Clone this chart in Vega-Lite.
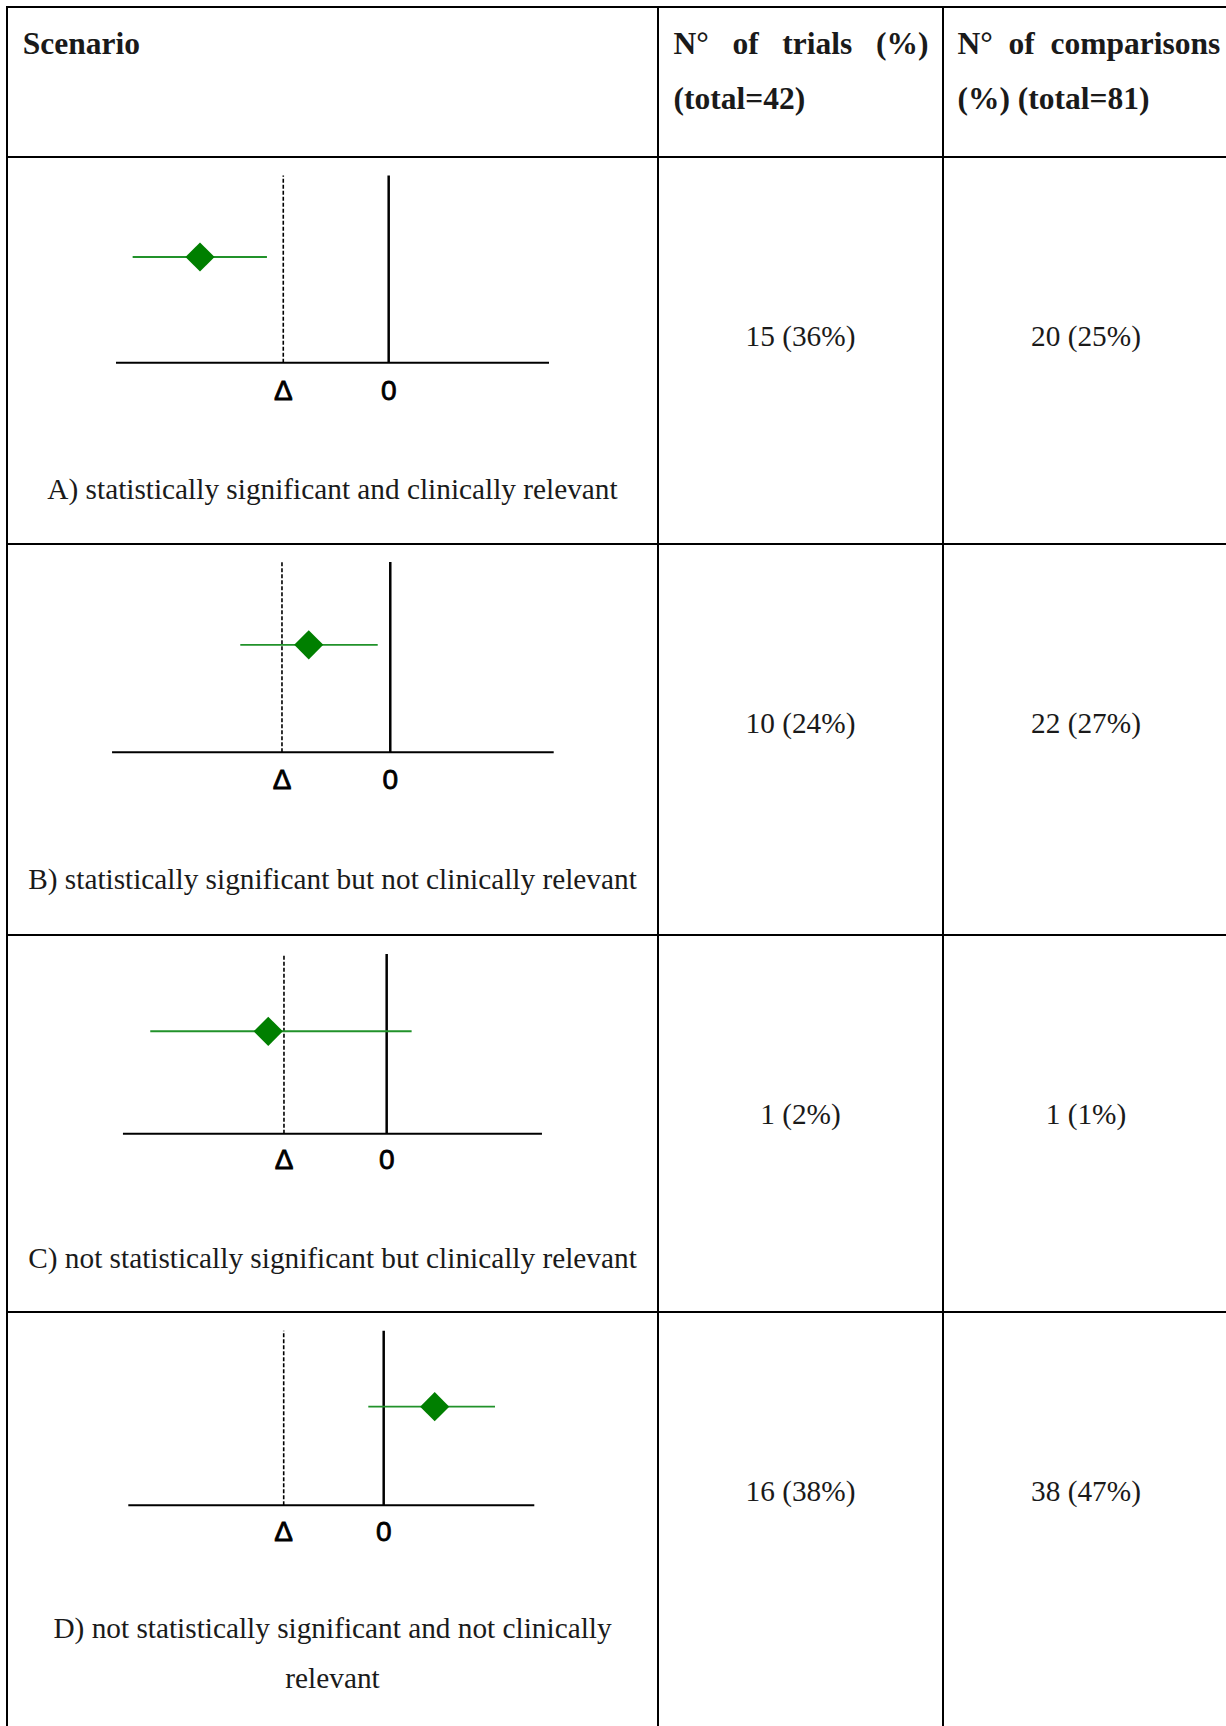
{
  "$schema": "https://vega.github.io/schema/vega-lite/v6.json",
  "background": "white",
  "padding": {"left": 6, "top": 6, "right": 0, "bottom": 0},
  "columns": 3,
  "spacing": 0,
  "bounds": "flush",
  "config": {
    "view": {"stroke": "#000", "strokeWidth": 2},
    "text": {"font": "Liberation Serif", "color": "#1a1a1a"},
    "concat": {"spacing": 0}
  },
  "datasets": {
    "header": [
      {"col": "scenario", "text": "Scenario"},
      {"col": "trials", "text": "N°\u00a0\u00a0\u00a0of\u00a0\u00a0\u00a0trials\u00a0\u00a0\u00a0(%)\n(total=42)"},
      {"col": "comparisons", "text": "N°\u00a0\u00a0of\u00a0\u00a0comparisons\n(%) (total=81)"}
    ],
    "scenarios": [
      {"scenario": "A", "label": "A) statistically significant and clinically relevant", "est": -1.79, "lo": -2.429, "hi": -1.155, "trials": "15 (36%)", "comparisons": "20 (25%)"},
      {"scenario": "B", "label": "B) statistically significant but not clinically relevant", "est": -0.753, "lo": -1.385, "hi": -0.116, "trials": "10 (24%)", "comparisons": "22 (27%)"},
      {"scenario": "C", "label": "C) not statistically significant but clinically relevant", "est": -1.153, "lo": -2.302, "hi": 0.243, "trials": "1 (2%)", "comparisons": "1 (1%)"},
      {"scenario": "D", "label": "D) not statistically significant and not clinically\nrelevant", "est": 0.51, "lo": -0.154, "hi": 1.113, "trials": "16 (38%)", "comparisons": "38 (47%)"}
    ],
    "refs": [
      {"ref": "Δ", "value": -1},
      {"ref": "0", "value": 0}
    ]
  },
  "concat": [
    {"width": 651, "height": 150, "layer": [{"data": {"name": "header"}, "transform": [{"filter": "datum.col === 'scenario'"}],
     "mark": {"type": "text", "align": "left", "baseline": "alphabetic", "dx": -309.8, "dy": -27.7, "fontWeight": "bold", "fontSize": 31.5, "lineHeight": 54.5, "lineBreak": "\n"},
     "encoding": {"x": {"datum": 0.5, "type": "quantitative", "scale": {"domain": [0, 1]}, "axis": null}, "y": {"datum": 0.5, "type": "quantitative", "scale": {"domain": [0, 1]}, "axis": null}, "text": {"field": "text"}}}]},
    {"width": 285, "height": 150, "layer": [{"data": {"name": "header"}, "transform": [{"filter": "datum.col === 'trials'"}],
     "mark": {"type": "text", "align": "left", "baseline": "alphabetic", "dx": -127, "dy": -27.7, "fontWeight": "bold", "fontSize": 31.5, "lineHeight": 54.5, "lineBreak": "\n"},
     "encoding": {"x": {"datum": 0.5, "type": "quantitative", "scale": {"domain": [0, 1]}, "axis": null}, "y": {"datum": 0.5, "type": "quantitative", "scale": {"domain": [0, 1]}, "axis": null}, "text": {"field": "text"}}}]},
    {"width": 286, "height": 150, "layer": [{"data": {"name": "header"}, "transform": [{"filter": "datum.col === 'comparisons'"}],
     "mark": {"type": "text", "align": "left", "baseline": "alphabetic", "dx": -128.6, "dy": -27.7, "fontWeight": "bold", "fontSize": 31.5, "lineHeight": 54.5, "lineBreak": "\n"},
     "encoding": {"x": {"datum": 0.5, "type": "quantitative", "scale": {"domain": [0, 1]}, "axis": null}, "y": {"datum": 0.5, "type": "quantitative", "scale": {"domain": [0, 1]}, "axis": null}, "text": {"field": "text"}}}]},

    {"width": 651, "height": 387, "layer": [
      {"data": {"name": "scenarios"}, "transform": [{"filter": "datum.scenario === 'A'"}],
       "mark": {"type": "rule", "color": "#000", "strokeWidth": 2},
       "encoding": {"x": {"datum": -2.587, "type": "quantitative", "scale": {"domain": [-3.621, 2.555], "nice": false, "zero": false}, "axis": null}, "x2": {"datum": 1.521},
                    "y": {"datum": 0, "type": "quantitative", "scale": {"domain": [-0.968, 1.099], "nice": false, "zero": false}, "axis": null}}},
      {"data": {"name": "refs"}, "mark": {"type": "rule", "color": "#000"},
       "encoding": {"x": {"field": "value", "type": "quantitative", "scale": {"domain": [-3.621, 2.555], "nice": false, "zero": false}, "axis": null},
                    "y": {"datum": 0, "type": "quantitative", "scale": {"domain": [-0.968, 1.099], "nice": false, "zero": false}, "axis": null}, "y2": {"datum": 1},
                    "strokeDash": {"field": "ref", "type": "nominal", "scale": {"domain": ["Δ", "0"], "range": [[4, 2], [1, 0]]}, "legend": null},
                    "strokeWidth": {"field": "ref", "type": "ordinal", "scale": {"domain": ["Δ", "0"], "range": [1.6, 2.5]}, "legend": null}}},
      {"data": {"name": "refs"}, "mark": {"type": "text", "font": "Liberation Sans", "fontSize": 28, "color": "#000", "stroke": "#000", "strokeWidth": 0.8},
       "encoding": {"x": {"field": "value", "type": "quantitative", "scale": {"domain": [-3.621, 2.555], "nice": false, "zero": false}, "axis": null},
                    "y": {"datum": -0.157, "type": "quantitative", "scale": {"domain": [-0.968, 1.099], "nice": false, "zero": false}, "axis": null},
                    "text": {"field": "ref"}}},
      {"data": {"name": "scenarios"}, "transform": [{"filter": "datum.scenario === 'A'"}],
       "mark": {"type": "rule", "color": "#21922a", "strokeWidth": 1.9},
       "encoding": {"x": {"field": "lo", "type": "quantitative", "scale": {"domain": [-3.621, 2.555], "nice": false, "zero": false}, "axis": null}, "x2": {"field": "hi"},
                    "y": {"datum": 0.565, "type": "quantitative", "scale": {"domain": [-0.968, 1.099], "nice": false, "zero": false}, "axis": null}}},
      {"data": {"name": "scenarios"}, "transform": [{"filter": "datum.scenario === 'A'"}],
       "mark": {"type": "point", "shape": "diamond", "filled": true, "color": "#007f00", "opacity": 1, "size": 850, "strokeWidth": 0},
       "encoding": {"x": {"field": "est", "type": "quantitative", "scale": {"domain": [-3.621, 2.555], "nice": false, "zero": false}, "axis": null},
                    "y": {"datum": 0.565, "type": "quantitative", "scale": {"domain": [-0.968, 1.099], "nice": false, "zero": false}, "axis": null}}},
      {"data": {"name": "scenarios"}, "transform": [{"filter": "datum.scenario === 'A'"}],
       "mark": {"type": "text", "fontSize": 29.3, "lineBreak": "\n", "lineHeight": 50.6},
       "encoding": {"y": {"datum": -0.678, "type": "quantitative", "scale": {"domain": [-0.968, 1.099], "nice": false, "zero": false}, "axis": null},
                    "text": {"field": "label"}}}
    ]},
    {"width": 285, "height": 387, "layer": [{"data": {"name": "scenarios"}, "transform": [{"filter": "datum.scenario === 'A'"}],
     "mark": {"type": "text", "fontSize": 29.3, "dy": -13.8},
     "encoding": {"x": {"datum": 0.5, "type": "quantitative", "scale": {"domain": [0, 1]}, "axis": null}, "y": {"datum": 0.5, "type": "quantitative", "scale": {"domain": [0, 1]}, "axis": null}, "text": {"field": "trials"}}}]},
    {"width": 286, "height": 387, "layer": [{"data": {"name": "scenarios"}, "transform": [{"filter": "datum.scenario === 'A'"}],
     "mark": {"type": "text", "fontSize": 29.3, "dy": -13.8},
     "encoding": {"x": {"datum": 0.5, "type": "quantitative", "scale": {"domain": [0, 1]}, "axis": null}, "y": {"datum": 0.5, "type": "quantitative", "scale": {"domain": [0, 1]}, "axis": null}, "text": {"field": "comparisons"}}}]},

    {"width": 651, "height": 391, "layer": [
      {"data": {"name": "scenarios"}, "transform": [{"filter": "datum.scenario === 'B'"}],
       "mark": {"type": "rule", "color": "#000", "strokeWidth": 2},
       "encoding": {"x": {"datum": -2.569, "type": "quantitative", "scale": {"domain": [-3.539, 2.472], "nice": false, "zero": false}, "axis": null}, "x2": {"datum": 1.509},
                    "y": {"datum": 0, "type": "quantitative", "scale": {"domain": [-0.960, 1.095], "nice": false, "zero": false}, "axis": null}}},
      {"data": {"name": "refs"}, "mark": {"type": "rule", "color": "#000"},
       "encoding": {"x": {"field": "value", "type": "quantitative", "scale": {"domain": [-3.539, 2.472], "nice": false, "zero": false}, "axis": null},
                    "y": {"datum": 0, "type": "quantitative", "scale": {"domain": [-0.960, 1.095], "nice": false, "zero": false}, "axis": null}, "y2": {"datum": 1},
                    "strokeDash": {"field": "ref", "type": "nominal", "scale": {"domain": ["Δ", "0"], "range": [[4, 2], [1, 0]]}, "legend": null},
                    "strokeWidth": {"field": "ref", "type": "ordinal", "scale": {"domain": ["Δ", "0"], "range": [1.6, 2.5]}, "legend": null}}},
      {"data": {"name": "refs"}, "mark": {"type": "text", "font": "Liberation Sans", "fontSize": 28, "color": "#000", "stroke": "#000", "strokeWidth": 0.8},
       "encoding": {"x": {"field": "value", "type": "quantitative", "scale": {"domain": [-3.539, 2.472], "nice": false, "zero": false}, "axis": null},
                    "y": {"datum": -0.153, "type": "quantitative", "scale": {"domain": [-0.960, 1.095], "nice": false, "zero": false}, "axis": null},
                    "text": {"field": "ref"}}},
      {"data": {"name": "scenarios"}, "transform": [{"filter": "datum.scenario === 'B'"}],
       "mark": {"type": "rule", "color": "#21922a", "strokeWidth": 1.9},
       "encoding": {"x": {"field": "lo", "type": "quantitative", "scale": {"domain": [-3.539, 2.472], "nice": false, "zero": false}, "axis": null}, "x2": {"field": "hi"},
                    "y": {"datum": 0.565, "type": "quantitative", "scale": {"domain": [-0.960, 1.095], "nice": false, "zero": false}, "axis": null}}},
      {"data": {"name": "scenarios"}, "transform": [{"filter": "datum.scenario === 'B'"}],
       "mark": {"type": "point", "shape": "diamond", "filled": true, "color": "#007f00", "opacity": 1, "size": 850, "strokeWidth": 0},
       "encoding": {"x": {"field": "est", "type": "quantitative", "scale": {"domain": [-3.539, 2.472], "nice": false, "zero": false}, "axis": null},
                    "y": {"datum": 0.565, "type": "quantitative", "scale": {"domain": [-0.960, 1.095], "nice": false, "zero": false}, "axis": null}}},
      {"data": {"name": "scenarios"}, "transform": [{"filter": "datum.scenario === 'B'"}],
       "mark": {"type": "text", "fontSize": 29.3, "lineBreak": "\n", "lineHeight": 50.6},
       "encoding": {"y": {"datum": -0.673, "type": "quantitative", "scale": {"domain": [-0.960, 1.095], "nice": false, "zero": false}, "axis": null},
                    "text": {"field": "label"}}}
    ]},
    {"width": 285, "height": 391, "layer": [{"data": {"name": "scenarios"}, "transform": [{"filter": "datum.scenario === 'B'"}],
     "mark": {"type": "text", "fontSize": 29.3, "dy": -15.5},
     "encoding": {"x": {"datum": 0.5, "type": "quantitative", "scale": {"domain": [0, 1]}, "axis": null}, "y": {"datum": 0.5, "type": "quantitative", "scale": {"domain": [0, 1]}, "axis": null}, "text": {"field": "trials"}}}]},
    {"width": 286, "height": 391, "layer": [{"data": {"name": "scenarios"}, "transform": [{"filter": "datum.scenario === 'B'"}],
     "mark": {"type": "text", "fontSize": 29.3, "dy": -15.5},
     "encoding": {"x": {"datum": 0.5, "type": "quantitative", "scale": {"domain": [0, 1]}, "axis": null}, "y": {"datum": 0.5, "type": "quantitative", "scale": {"domain": [0, 1]}, "axis": null}, "text": {"field": "comparisons"}}}]},

    {"width": 651, "height": 377, "layer": [
      {"data": {"name": "scenarios"}, "transform": [{"filter": "datum.scenario === 'C'"}],
       "mark": {"type": "rule", "color": "#000", "strokeWidth": 2},
       "encoding": {"x": {"datum": -2.568, "type": "quantitative", "scale": {"domain": [-3.697, 2.642], "nice": false, "zero": false}, "axis": null}, "x2": {"datum": 1.512},
                    "y": {"datum": 0, "type": "quantitative", "scale": {"domain": [-0.992, 1.106], "nice": false, "zero": false}, "axis": null}}},
      {"data": {"name": "refs"}, "mark": {"type": "rule", "color": "#000"},
       "encoding": {"x": {"field": "value", "type": "quantitative", "scale": {"domain": [-3.697, 2.642], "nice": false, "zero": false}, "axis": null},
                    "y": {"datum": 0, "type": "quantitative", "scale": {"domain": [-0.992, 1.106], "nice": false, "zero": false}, "axis": null}, "y2": {"datum": 1},
                    "strokeDash": {"field": "ref", "type": "nominal", "scale": {"domain": ["Δ", "0"], "range": [[4, 2], [1, 0]]}, "legend": null},
                    "strokeWidth": {"field": "ref", "type": "ordinal", "scale": {"domain": ["Δ", "0"], "range": [1.6, 2.5]}, "legend": null}}},
      {"data": {"name": "refs"}, "mark": {"type": "text", "font": "Liberation Sans", "fontSize": 28, "color": "#000", "stroke": "#000", "strokeWidth": 0.8},
       "encoding": {"x": {"field": "value", "type": "quantitative", "scale": {"domain": [-3.697, 2.642], "nice": false, "zero": false}, "axis": null},
                    "y": {"datum": -0.150, "type": "quantitative", "scale": {"domain": [-0.992, 1.106], "nice": false, "zero": false}, "axis": null},
                    "text": {"field": "ref"}}},
      {"data": {"name": "scenarios"}, "transform": [{"filter": "datum.scenario === 'C'"}],
       "mark": {"type": "rule", "color": "#21922a", "strokeWidth": 1.9},
       "encoding": {"x": {"field": "lo", "type": "quantitative", "scale": {"domain": [-3.697, 2.642], "nice": false, "zero": false}, "axis": null}, "x2": {"field": "hi"},
                    "y": {"datum": 0.570, "type": "quantitative", "scale": {"domain": [-0.992, 1.106], "nice": false, "zero": false}, "axis": null}}},
      {"data": {"name": "scenarios"}, "transform": [{"filter": "datum.scenario === 'C'"}],
       "mark": {"type": "point", "shape": "diamond", "filled": true, "color": "#007f00", "opacity": 1, "size": 850, "strokeWidth": 0},
       "encoding": {"x": {"field": "est", "type": "quantitative", "scale": {"domain": [-3.697, 2.642], "nice": false, "zero": false}, "axis": null},
                    "y": {"datum": 0.570, "type": "quantitative", "scale": {"domain": [-0.992, 1.106], "nice": false, "zero": false}, "axis": null}}},
      {"data": {"name": "scenarios"}, "transform": [{"filter": "datum.scenario === 'C'"}],
       "mark": {"type": "text", "fontSize": 29.3, "lineBreak": "\n", "lineHeight": 50.6},
       "encoding": {"y": {"datum": -0.697, "type": "quantitative", "scale": {"domain": [-0.992, 1.106], "nice": false, "zero": false}, "axis": null},
                    "text": {"field": "label"}}}
    ]},
    {"width": 285, "height": 377, "layer": [{"data": {"name": "scenarios"}, "transform": [{"filter": "datum.scenario === 'C'"}],
     "mark": {"type": "text", "fontSize": 29.3, "dy": -8.7},
     "encoding": {"x": {"datum": 0.5, "type": "quantitative", "scale": {"domain": [0, 1]}, "axis": null}, "y": {"datum": 0.5, "type": "quantitative", "scale": {"domain": [0, 1]}, "axis": null}, "text": {"field": "trials"}}}]},
    {"width": 286, "height": 377, "layer": [{"data": {"name": "scenarios"}, "transform": [{"filter": "datum.scenario === 'C'"}],
     "mark": {"type": "text", "fontSize": 29.3, "dy": -8.7},
     "encoding": {"x": {"datum": 0.5, "type": "quantitative", "scale": {"domain": [0, 1]}, "axis": null}, "y": {"datum": 0.5, "type": "quantitative", "scale": {"domain": [0, 1]}, "axis": null}, "text": {"field": "comparisons"}}}]},

    {"width": 651, "height": 440, "layer": [
      {"data": {"name": "scenarios"}, "transform": [{"filter": "datum.scenario === 'D'"}],
       "mark": {"type": "rule", "color": "#000", "strokeWidth": 2},
       "encoding": {"x": {"datum": -2.554, "type": "quantitative", "scale": {"domain": [-3.767, 2.743], "nice": false, "zero": false}, "axis": null}, "x2": {"datum": 1.506},
                    "y": {"datum": 0, "type": "quantitative", "scale": {"domain": [-1.413, 1.107], "nice": false, "zero": false}, "axis": null}}},
      {"data": {"name": "refs"}, "mark": {"type": "rule", "color": "#000"},
       "encoding": {"x": {"field": "value", "type": "quantitative", "scale": {"domain": [-3.767, 2.743], "nice": false, "zero": false}, "axis": null},
                    "y": {"datum": 0, "type": "quantitative", "scale": {"domain": [-1.413, 1.107], "nice": false, "zero": false}, "axis": null}, "y2": {"datum": 1},
                    "strokeDash": {"field": "ref", "type": "nominal", "scale": {"domain": ["Δ", "0"], "range": [[4, 2], [1, 0]]}, "legend": null},
                    "strokeWidth": {"field": "ref", "type": "ordinal", "scale": {"domain": ["Δ", "0"], "range": [1.6, 2.5]}, "legend": null}}},
      {"data": {"name": "refs"}, "mark": {"type": "text", "font": "Liberation Sans", "fontSize": 28, "color": "#000", "stroke": "#000", "strokeWidth": 0.8},
       "encoding": {"x": {"field": "value", "type": "quantitative", "scale": {"domain": [-3.767, 2.743], "nice": false, "zero": false}, "axis": null},
                    "y": {"datum": -0.159, "type": "quantitative", "scale": {"domain": [-1.413, 1.107], "nice": false, "zero": false}, "axis": null},
                    "text": {"field": "ref"}}},
      {"data": {"name": "scenarios"}, "transform": [{"filter": "datum.scenario === 'D'"}],
       "mark": {"type": "rule", "color": "#21922a", "strokeWidth": 1.9},
       "encoding": {"x": {"field": "lo", "type": "quantitative", "scale": {"domain": [-3.767, 2.743], "nice": false, "zero": false}, "axis": null}, "x2": {"field": "hi"},
                    "y": {"datum": 0.565, "type": "quantitative", "scale": {"domain": [-1.413, 1.107], "nice": false, "zero": false}, "axis": null}}},
      {"data": {"name": "scenarios"}, "transform": [{"filter": "datum.scenario === 'D'"}],
       "mark": {"type": "point", "shape": "diamond", "filled": true, "color": "#007f00", "opacity": 1, "size": 850, "strokeWidth": 0},
       "encoding": {"x": {"field": "est", "type": "quantitative", "scale": {"domain": [-3.767, 2.743], "nice": false, "zero": false}, "axis": null},
                    "y": {"datum": 0.565, "type": "quantitative", "scale": {"domain": [-1.413, 1.107], "nice": false, "zero": false}, "axis": null}}},
      {"data": {"name": "scenarios"}, "transform": [{"filter": "datum.scenario === 'D'"}],
       "mark": {"type": "text", "fontSize": 29.3, "lineBreak": "\n", "lineHeight": 50.6},
       "encoding": {"y": {"datum": -0.707, "type": "quantitative", "scale": {"domain": [-1.413, 1.107], "nice": false, "zero": false}, "axis": null},
                    "text": {"field": "label"}}}
    ]},
    {"width": 285, "height": 440, "layer": [{"data": {"name": "scenarios"}, "transform": [{"filter": "datum.scenario === 'D'"}],
     "mark": {"type": "text", "fontSize": 29.3, "dy": -39.7},
     "encoding": {"x": {"datum": 0.5, "type": "quantitative", "scale": {"domain": [0, 1]}, "axis": null}, "y": {"datum": 0.5, "type": "quantitative", "scale": {"domain": [0, 1]}, "axis": null}, "text": {"field": "trials"}}}]},
    {"width": 286, "height": 440, "layer": [{"data": {"name": "scenarios"}, "transform": [{"filter": "datum.scenario === 'D'"}],
     "mark": {"type": "text", "fontSize": 29.3, "dy": -39.7},
     "encoding": {"x": {"datum": 0.5, "type": "quantitative", "scale": {"domain": [0, 1]}, "axis": null}, "y": {"datum": 0.5, "type": "quantitative", "scale": {"domain": [0, 1]}, "axis": null}, "text": {"field": "comparisons"}}}]}
  ]
}
